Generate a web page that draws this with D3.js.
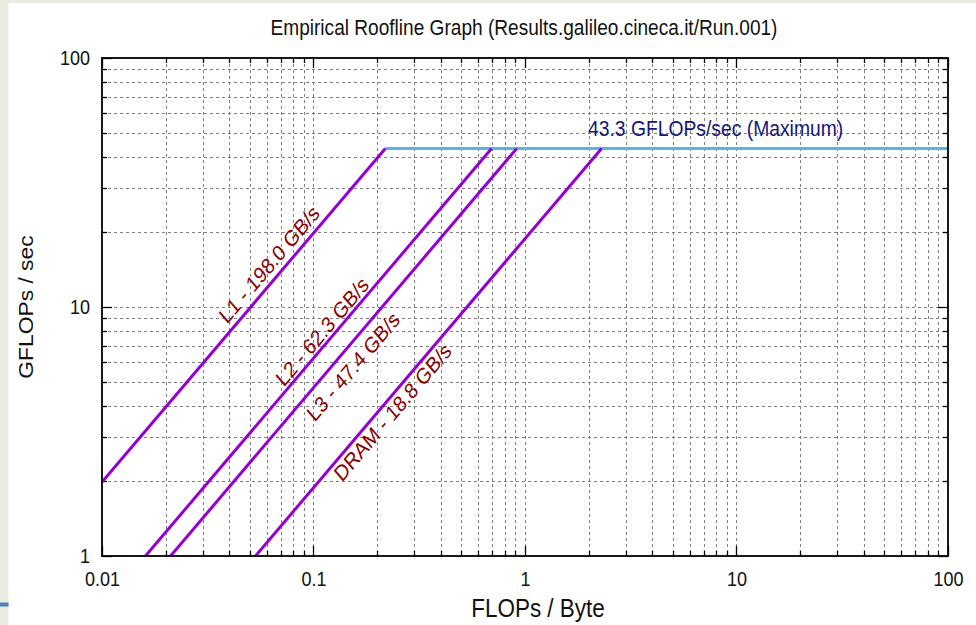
<!DOCTYPE html>
<html><head><meta charset="utf-8">
<script src="https://cdn.jsdelivr.net/npm/d3@7"></script>
<style>
body{margin:0;background:#fff}
svg{display:block}
text{font-family:"Liberation Sans", Arial, Helvetica, sans-serif}
</style>
</head><body>
<svg id="chart" width="976" height="625"></svg>
<script>
// ---- data ----
const chartTitle = "Empirical Roofline Graph (Results.galileo.cineca.it/Run.001)";
const xAxisLabel = "FLOPs / Byte";
const yAxisLabel = "GFLOPs / sec";
const xTickValues = [0.01, 0.1, 1, 10, 100];
const xTickLabels = ["0.01", "0.1", "1", "10", "100"];
const yTickValues = [1, 10, 100];
const yTickLabels = ["1", "10", "100"];
const roofNames = ["L1", "L2", "L3", "DRAM"];
const roofBandwidth = [198.0, 62.3, 47.4, 18.8]; // GB/s
const peakGflops = 43.3;
const peakLabel = "43.3 GFLOPs/sec (Maximum)";

// ---- layout ----
const W = 976, H = 625;
const M = {left: 102, right: 948, top: 58, bottom: 556};
const S = 1.17; // vertical stretch of the screenshot text
const labelAnchors = [[0.0390, 8.48], [0.0723, 4.74], [0.1013, 3.43], [0.1364, 1.97]];

const svg = d3.select("#chart");
svg.append("rect").attr("width", W).attr("height", H).attr("fill", "#fff");
// screenshot frame strips
svg.append("rect").attr("x", 0).attr("y", 0).attr("width", W).attr("height", 3).attr("fill", "#ecebe1");
svg.append("rect").attr("x", 0).attr("y", 0).attr("width", 8.5).attr("height", H).attr("fill", "#ecebe1");
svg.append("rect").attr("x", 0).attr("y", 602.5).attr("width", 8.5).attr("height", 4).attr("fill", "#4f81bd");

const x = d3.scaleLog().domain([0.01, 100]).range([M.left, M.right]);
const y = d3.scaleLog().domain([1, 100]).range([M.bottom, M.top]);

// minor tick values
const xMinor = [], yMinor = [];
for (let e = -2; e < 2; e++) for (let k = 1; k <= 9; k++) xMinor.push(k * Math.pow(10, e));
xMinor.push(100);
for (let e = 0; e < 2; e++) for (let k = 1; k <= 9; k++) yMinor.push(k * Math.pow(10, e));
yMinor.push(100);
const px = v => Math.round(v) + 0.5;

// grid
const grid = svg.append("g").attr("stroke", "#808080").attr("stroke-width", 1).attr("stroke-dasharray", "3,3")
  .attr("shape-rendering", "crispEdges");
grid.selectAll("line.gx").data(xMinor.filter(v => v > 0.01 && v < 100)).join("line")
  .attr("x1", d => px(x(d))).attr("x2", d => px(x(d))).attr("y1", M.top).attr("y2", M.bottom);
grid.selectAll("line.gy").data(yMinor.filter(v => v > 1 && v < 100)).join("line")
  .attr("y1", d => px(y(d))).attr("y2", d => px(y(d))).attr("x1", M.left).attr("x2", M.right);

// axes with inward ticks (mirrored)
function isMajor(v) { return Math.abs(Math.log10(v) - Math.round(Math.log10(v))) < 1e-9; }
const tickG = svg.append("g").attr("stroke", "#000").attr("stroke-width", 1.3);
xMinor.forEach(v => {
  const len = isMajor(v) ? 10 : 5;
  tickG.append("line").attr("x1", px(x(v))).attr("x2", px(x(v))).attr("y1", M.bottom).attr("y2", M.bottom - len);
  tickG.append("line").attr("x1", px(x(v))).attr("x2", px(x(v))).attr("y1", M.top).attr("y2", M.top + len);
});
yMinor.forEach(v => {
  const len = isMajor(v) ? 10 : 5;
  tickG.append("line").attr("y1", px(y(v))).attr("y2", px(y(v))).attr("x1", M.left).attr("x2", M.left + len);
  tickG.append("line").attr("y1", px(y(v))).attr("y2", px(y(v))).attr("x1", M.right).attr("x2", M.right - len);
});

// d3 axes for the tick labels
const xAxis = d3.axisBottom(x).tickValues(xTickValues).tickFormat((d, i) => xTickLabels[i]).tickSize(0).tickPadding(0);
const yAxis = d3.axisLeft(y).tickValues(yTickValues).tickFormat((d, i) => yTickLabels[i]).tickSize(0).tickPadding(0);
const gx = svg.append("g").attr("transform", `translate(0,${M.bottom})`).call(xAxis);
const gy = svg.append("g").attr("transform", `translate(${M.left},0)`).call(yAxis);
[gx, gy].forEach(g => { g.select(".domain").remove(); g.selectAll("line").remove(); });
gx.selectAll("text").attr("y", null).attr("dy", null)
  .attr("transform", `translate(0,30) scale(1,${S})`)
  .attr("font-size", 18).attr("fill", "#111").attr("font-family", "Liberation Sans, Arial, sans-serif");
gy.selectAll("text").attr("x", null).attr("dy", null)
  .attr("transform", `translate(-12,6) scale(1,${S})`).attr("text-anchor", "end")
  .attr("font-size", 18).attr("fill", "#111").attr("font-family", "Liberation Sans, Arial, sans-serif");

// plot clip
svg.append("clipPath").attr("id", "clip").append("rect")
  .attr("x", M.left).attr("y", M.top).attr("width", M.right - M.left).attr("height", M.bottom - M.top);
const plot = svg.append("g").attr("clip-path", "url(#clip)");

// roof lines
const ridgeMin = d3.min(roofBandwidth, b => peakGflops / b);
plot.append("line").attr("x1", x(ridgeMin)).attr("x2", x(100)).attr("y1", y(peakGflops)).attr("y2", y(peakGflops))
  .attr("stroke", "#56b4e9").attr("stroke-width", 3.2);
roofBandwidth.forEach(b => {
  const x0 = Math.max(0.01, 1 / b), x1 = peakGflops / b;
  plot.append("line").attr("x1", x(x0)).attr("y1", y(b * x0)).attr("x2", x(x1)).attr("y2", y(b * x1))
    .attr("stroke", "#9400d3").attr("stroke-width", 3);
});

// border
svg.append("rect").attr("x", M.left).attr("y", M.top).attr("width", M.right - M.left).attr("height", M.bottom - M.top)
  .attr("fill", "none").attr("stroke", "#000").attr("stroke-width", 1.8);

// line labels
const thetaScreen = Math.atan((y(1) - y(10)) / (x(1) - x(0.1)));
const thetaPre = Math.atan(Math.tan(thetaScreen) / S) * 180 / Math.PI;
roofNames.forEach((n, i) => {
  const [ax, ay] = labelAnchors[i];
  svg.append("text").attr("transform", `translate(${x(ax)},${y(ay)}) scale(1,${S}) rotate(${-thetaPre})`)
    .attr("font-size", 19).attr("fill", "#8b0000")
    .text(`${n} - ${roofBandwidth[i].toFixed(1)} GB/s`);
});

// peak label
svg.append("text").attr("transform", `translate(588,136) scale(1,${S})`)
  .attr("font-size", 19.3).attr("fill", "#16167a").text(peakLabel);

// title
svg.append("text").attr("transform", `translate(524,35) scale(1,${S})`).attr("text-anchor", "middle")
  .attr("font-size", 19.1).attr("fill", "#111").text(chartTitle);
// axis labels
svg.append("text").attr("transform", `translate(538,617) scale(1,${S})`).attr("text-anchor", "middle")
  .attr("font-size", 22.5).attr("fill", "#111").text(xAxisLabel);
svg.append("text").attr("transform", `translate(33,307) scale(1,${S}) rotate(-90)`).attr("text-anchor", "middle")
  .attr("font-size", 19.5).attr("fill", "#111").text(yAxisLabel);
</script>
</body></html>
